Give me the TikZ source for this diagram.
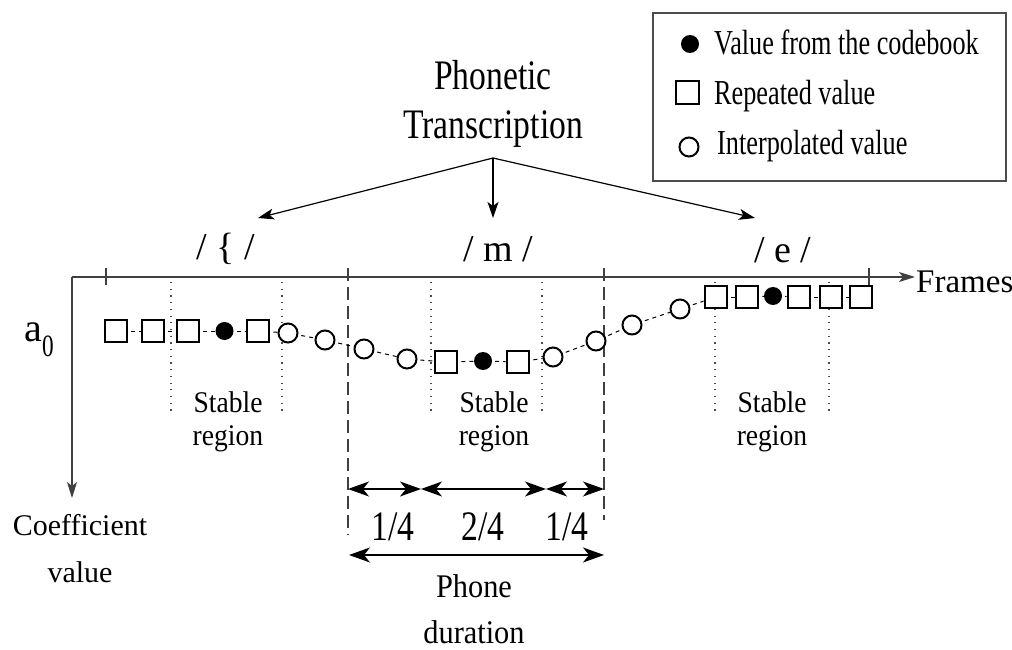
\documentclass[tikz,border=0pt]{standalone}
\usepackage{fontspec}
\setmainfont{Liberation Serif}
\newfontfamily\fLeg[FakeStretch=0.75]{Liberation Serif}
\newfontfamily\fNar[FakeStretch=0.8]{Liberation Serif}
\newfontfamily\fMid[FakeStretch=0.92]{Liberation Serif}
\usetikzlibrary{arrows.meta}

\tikzset{
  axis/.style={line width=1.3pt, draw=black!75},
  axtip/.style={-{Stealth[length=16pt,width=10pt,inset=4pt]}},
  durtip/.style={{Stealth[length=21pt,width=15pt,inset=6pt]}-{Stealth[length=21pt,width=15pt,inset=6pt]}, line width=1.2pt},
  rep/.style={rectangle, draw, line width=2.4pt, fill=white, minimum size=22.5pt, inner sep=0pt},
  itp/.style={circle, draw, line width=2pt, fill=white, minimum size=19pt, inner sep=0pt},
  cbk/.style={circle, fill=black, minimum size=18pt, inner sep=0pt},
  link/.style={line width=1pt, dash pattern=on 4pt off 4pt, dash phase=-3pt},
  phase/.style={line width=1.2pt, draw=black!75, dash pattern=on 13pt off 6pt},
  stab/.style={line width=1.1pt, draw=black!70, dash pattern=on 1.2pt off 5.5pt},
  tick/.style={line width=1.2pt, draw=black!75},
  lbl/.style={inner sep=0pt, anchor=base},
  legtxt/.style={inner sep=0pt, anchor=base west, font=\fLeg\fontsize{35}{40}\selectfont},
}

\begin{document}
\begin{tikzpicture}[x=1pt, y=-1pt]
\useasboundingbox (0,0) rectangle (1012,650);

% ---- legend ----
\node[draw=black!70, line width=1.8pt, minimum width=353pt, minimum height=168pt, inner sep=0pt, anchor=north west] (legend) at (652,12) {};
\node[cbk] (lgF) at (690,44) {};
\node[rep] (lgS) at (687.5,92.5) {};
\node[itp] (lgC) at (689,147) {};
\node[legtxt] (lgFt) at (714,55) {Value from the codebook};
\node[legtxt] (lgSt) at (714,105) {Repeated value};
\node[legtxt] (lgCt) at (717,154) {Interpolated value};

% ---- phonetic transcription and phone labels ----
\node[lbl, font=\fNar\fontsize{42}{48}\selectfont] (ph1) at (493,90) {Phonetic};
\node[lbl, font=\fNar\fontsize{42}{48}\selectfont] (ph2) at (493,139) {Transcription};
\coordinate (apex) at (493,158);
\coordinate (tipA) at (258,218);
\coordinate (tipM) at (493,218);
\coordinate (tipE) at (755,218);
\foreach \t in {tipA,tipM,tipE}
  \draw[line width=1.2pt, -{Stealth[length=16pt,width=11pt,inset=4pt]}] (apex) -- (\t);

\node[lbl, font=\fontsize{38}{44}\selectfont] (phA) at (226,259) {/ \{ /};
\node[lbl, font=\fontsize{38}{44}\selectfont] (phM) at (498,261) {/ m /};
\node[lbl, font=\fontsize{38}{44}\selectfont] (phE) at (783,262) {/ e /};

% ---- axes ----
\coordinate (O) at (72,277);
\coordinate (xe) at (915,277);
\coordinate (ye) at (72,498);
\draw[axis, axtip] (O) -- (xe);
\draw[axis, axtip] (O) -- (ye);
\node[inner sep=0pt, anchor=base west, font=\fontsize{33}{38}\selectfont] (frames) at (916,292) {Frames};
\node[inner sep=0pt, anchor=base west, font=\fontsize{40}{44}\selectfont] (a0) at (24,341) {a};
\node[inner sep=0pt, anchor=base west, font=\fLeg\fontsize{31}{34}\selectfont] (a0sub) at (42,356) {0};
\node[lbl, font=\fontsize{30}{34}\selectfont] (cv1) at (80,535) {Coefficient};
\node[lbl, font=\fontsize{30}{34}\selectfont] (cv2) at (80,582) {value};

% ticks on the frame axis
\coordinate (t1a) at (106,268); \coordinate (t1b) at (106,285);
\coordinate (t2a) at (869,268); \coordinate (t2b) at (869,285);
\draw[tick] (t1a) -- (t1b);
\draw[tick] (t2a) -- (t2b);

% phone boundaries
\coordinate (b1a) at (348,268); \coordinate (b1b) at (348,535);
\coordinate (b2a) at (604,268); \coordinate (b2b) at (604,520);
\draw[phase] (b1a) -- (b1b);
\draw[phase] (b2a) -- (b2b);

% stable region limits
\foreach \n/\x in {s1/171, s2/282, s3/431, s4/542, s5/715, s6/829} {
  \coordinate (\n a) at (\x,282);
  \coordinate (\n b) at (\x,411);
  \draw[stab] (\n a) -- (\n b);
}

% ---- coefficient values per frame ----
\foreach \n/\x/\y/\s in {
  S1/116/331/rep, S2/153/331/rep, S3/188/331/rep, F1/224.5/331/cbk, S4/258/331/rep,
  C1/288/333/itp, C2/325/340/itp, C3/364/349/itp, C4/407/359/itp,
  S5/446/362/rep, F2/483/361/cbk, S6/518/362/rep,
  C5/553/357/itp, C6/596/341/itp, C7/632/325/itp, C8/680/309/itp,
  S7/716/297/rep, S8/747/297/rep, F3/773/296/cbk, S9/799/297/rep, S10/831/297/rep, S11/861/297/rep}
  \node[\s] (\n) at (\x,\y) {};

\foreach \p/\q in {S1/S2, S2/S3, S3/F1, F1/S4, S4/C1, C1/C2, C2/C3, C3/C4, C4/S5, S5/F2, F2/S6,
                   S6/C5, C5/C6, C6/C7, C7/C8, C8/S7, S7/S8, S8/F3, F3/S9, S9/S10, S10/S11}
  \draw[link] (\p) -- (\q);

% stable region captions
\foreach \n/\x in {r1/228, r2/494, r3/772} {
  \node[lbl, font=\fMid\fontsize{30}{34}\selectfont] (\n s) at (\x,412) {Stable};
  \node[lbl, font=\fMid\fontsize{30}{34}\selectfont] (\n r) at (\x,445) {region};
}

% ---- phone duration split ----
\coordinate (q0) at (348,489);
\coordinate (q1) at (421,489);
\coordinate (q2) at (546,489);
\coordinate (q3) at (604,489);
\draw[durtip] (q0) -- (q1);
\draw[durtip] (q1) -- (q2);
\draw[durtip] (q2) -- (q3);
\node[lbl, font=\fNar\fontsize{42}{48}\selectfont] (fr1) at (393,540) {1/4};
\node[lbl, font=\fNar\fontsize{42}{48}\selectfont] (fr2) at (483,540) {2/4};
\node[lbl, font=\fNar\fontsize{42}{48}\selectfont] (fr3) at (567,540) {1/4};
\coordinate (d0) at (349,555);
\coordinate (d1) at (604,555);
\draw[durtip] (d0) -- (d1);
\node[lbl, font=\fMid\fontsize{33}{38}\selectfont] (pd1) at (474,597) {Phone};
\node[lbl, font=\fMid\fontsize{33}{38}\selectfont] (pd2) at (474,643) {duration};
\end{tikzpicture}
\end{document}
